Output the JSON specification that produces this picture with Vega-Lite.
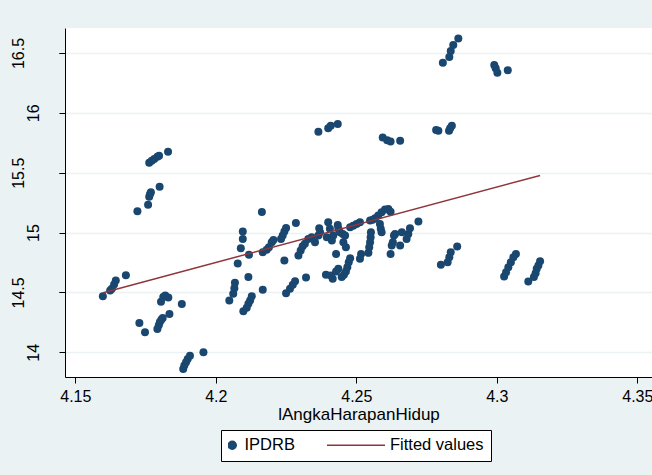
{
  "$schema": "https://vega.github.io/schema/vega-lite/v6.json",
  "width": 587,
  "height": 349,
  "autosize": {"type": "none"},
  "padding": {"left": 65, "top": 28, "right": 0, "bottom": 98},
  "background": "#eaf2f3",
  "config": {
    "font": "Liberation Sans",
    "view": {"fill": "#ffffff", "stroke": null},
    "axis": {"domainColor": "#000000", "tickColor": "#000000", "labelColor": "#000000", "titleColor": "#000000", "labelFontSize": 16, "titleFontSize": 17, "titleFontWeight": "normal", "tickSize": 6, "domainWidth": 1, "tickWidth": 1}
  },
  "datasets": {
    "pts": [
      {"lAngkaHarapanHidup": 4.1598, "IPDRB": 14.469},
      {"lAngkaHarapanHidup": 4.1624, "IPDRB": 14.517},
      {"lAngkaHarapanHidup": 4.1630, "IPDRB": 14.531},
      {"lAngkaHarapanHidup": 4.1638, "IPDRB": 14.567},
      {"lAngkaHarapanHidup": 4.1644, "IPDRB": 14.600},
      {"lAngkaHarapanHidup": 4.1680, "IPDRB": 14.644},
      {"lAngkaHarapanHidup": 4.1763, "IPDRB": 15.583},
      {"lAngkaHarapanHidup": 4.1772, "IPDRB": 15.600},
      {"lAngkaHarapanHidup": 4.1781, "IPDRB": 15.614},
      {"lAngkaHarapanHidup": 4.1792, "IPDRB": 15.633},
      {"lAngkaHarapanHidup": 4.1798, "IPDRB": 15.642},
      {"lAngkaHarapanHidup": 4.1830, "IPDRB": 15.675},
      {"lAngkaHarapanHidup": 4.1721, "IPDRB": 15.178},
      {"lAngkaHarapanHidup": 4.1759, "IPDRB": 15.233},
      {"lAngkaHarapanHidup": 4.1763, "IPDRB": 15.300},
      {"lAngkaHarapanHidup": 4.1766, "IPDRB": 15.323},
      {"lAngkaHarapanHidup": 4.1769, "IPDRB": 15.336},
      {"lAngkaHarapanHidup": 4.1800, "IPDRB": 15.383},
      {"lAngkaHarapanHidup": 4.1728, "IPDRB": 14.244},
      {"lAngkaHarapanHidup": 4.1748, "IPDRB": 14.167},
      {"lAngkaHarapanHidup": 4.1792, "IPDRB": 14.194},
      {"lAngkaHarapanHidup": 4.1797, "IPDRB": 14.225},
      {"lAngkaHarapanHidup": 4.1801, "IPDRB": 14.253},
      {"lAngkaHarapanHidup": 4.1806, "IPDRB": 14.272},
      {"lAngkaHarapanHidup": 4.1811, "IPDRB": 14.286},
      {"lAngkaHarapanHidup": 4.1805, "IPDRB": 14.422},
      {"lAngkaHarapanHidup": 4.1813, "IPDRB": 14.461},
      {"lAngkaHarapanHidup": 4.1820, "IPDRB": 14.475},
      {"lAngkaHarapanHidup": 4.1831, "IPDRB": 14.458},
      {"lAngkaHarapanHidup": 4.1835, "IPDRB": 14.319},
      {"lAngkaHarapanHidup": 4.1879, "IPDRB": 14.403},
      {"lAngkaHarapanHidup": 4.1884, "IPDRB": 13.861},
      {"lAngkaHarapanHidup": 4.1888, "IPDRB": 13.889},
      {"lAngkaHarapanHidup": 4.1894, "IPDRB": 13.917},
      {"lAngkaHarapanHidup": 4.1900, "IPDRB": 13.944},
      {"lAngkaHarapanHidup": 4.1908, "IPDRB": 13.972},
      {"lAngkaHarapanHidup": 4.1956, "IPDRB": 14.000},
      {"lAngkaHarapanHidup": 4.2164, "IPDRB": 15.172},
      {"lAngkaHarapanHidup": 4.2096, "IPDRB": 15.008},
      {"lAngkaHarapanHidup": 4.2096, "IPDRB": 14.947},
      {"lAngkaHarapanHidup": 4.2089, "IPDRB": 14.869},
      {"lAngkaHarapanHidup": 4.2078, "IPDRB": 14.742},
      {"lAngkaHarapanHidup": 4.2118, "IPDRB": 14.814},
      {"lAngkaHarapanHidup": 4.2116, "IPDRB": 14.628},
      {"lAngkaHarapanHidup": 4.2068, "IPDRB": 14.581},
      {"lAngkaHarapanHidup": 4.2066, "IPDRB": 14.536},
      {"lAngkaHarapanHidup": 4.2062, "IPDRB": 14.489},
      {"lAngkaHarapanHidup": 4.2048, "IPDRB": 14.433},
      {"lAngkaHarapanHidup": 4.2128, "IPDRB": 14.469},
      {"lAngkaHarapanHidup": 4.2122, "IPDRB": 14.433},
      {"lAngkaHarapanHidup": 4.2116, "IPDRB": 14.406},
      {"lAngkaHarapanHidup": 4.2110, "IPDRB": 14.372},
      {"lAngkaHarapanHidup": 4.2098, "IPDRB": 14.342},
      {"lAngkaHarapanHidup": 4.2167, "IPDRB": 14.522},
      {"lAngkaHarapanHidup": 4.2167, "IPDRB": 14.836},
      {"lAngkaHarapanHidup": 4.2181, "IPDRB": 14.856},
      {"lAngkaHarapanHidup": 4.2189, "IPDRB": 14.878},
      {"lAngkaHarapanHidup": 4.2199, "IPDRB": 14.919},
      {"lAngkaHarapanHidup": 4.2205, "IPDRB": 14.939},
      {"lAngkaHarapanHidup": 4.2232, "IPDRB": 14.947},
      {"lAngkaHarapanHidup": 4.2238, "IPDRB": 14.975},
      {"lAngkaHarapanHidup": 4.2244, "IPDRB": 15.008},
      {"lAngkaHarapanHidup": 4.2250, "IPDRB": 15.039},
      {"lAngkaHarapanHidup": 4.2285, "IPDRB": 15.081},
      {"lAngkaHarapanHidup": 4.2244, "IPDRB": 14.767},
      {"lAngkaHarapanHidup": 4.2250, "IPDRB": 14.494},
      {"lAngkaHarapanHidup": 4.2264, "IPDRB": 14.531},
      {"lAngkaHarapanHidup": 4.2274, "IPDRB": 14.564},
      {"lAngkaHarapanHidup": 4.2282, "IPDRB": 14.594},
      {"lAngkaHarapanHidup": 4.2321, "IPDRB": 14.625},
      {"lAngkaHarapanHidup": 4.2294, "IPDRB": 14.808},
      {"lAngkaHarapanHidup": 4.2302, "IPDRB": 14.850},
      {"lAngkaHarapanHidup": 4.2309, "IPDRB": 14.886},
      {"lAngkaHarapanHidup": 4.2317, "IPDRB": 14.906},
      {"lAngkaHarapanHidup": 4.2329, "IPDRB": 14.947},
      {"lAngkaHarapanHidup": 4.2341, "IPDRB": 14.961},
      {"lAngkaHarapanHidup": 4.2353, "IPDRB": 14.919},
      {"lAngkaHarapanHidup": 4.2365, "IPDRB": 14.975},
      {"lAngkaHarapanHidup": 4.2368, "IPDRB": 15.036},
      {"lAngkaHarapanHidup": 4.2371, "IPDRB": 15.003},
      {"lAngkaHarapanHidup": 4.2400, "IPDRB": 15.086},
      {"lAngkaHarapanHidup": 4.2406, "IPDRB": 15.031},
      {"lAngkaHarapanHidup": 4.2395, "IPDRB": 14.961},
      {"lAngkaHarapanHidup": 4.2413, "IPDRB": 14.933},
      {"lAngkaHarapanHidup": 4.2418, "IPDRB": 14.975},
      {"lAngkaHarapanHidup": 4.2434, "IPDRB": 15.064},
      {"lAngkaHarapanHidup": 4.2436, "IPDRB": 15.031},
      {"lAngkaHarapanHidup": 4.2428, "IPDRB": 14.822},
      {"lAngkaHarapanHidup": 4.2442, "IPDRB": 15.003},
      {"lAngkaHarapanHidup": 4.2452, "IPDRB": 14.989},
      {"lAngkaHarapanHidup": 4.2460, "IPDRB": 14.975},
      {"lAngkaHarapanHidup": 4.2454, "IPDRB": 14.919},
      {"lAngkaHarapanHidup": 4.2463, "IPDRB": 14.878},
      {"lAngkaHarapanHidup": 4.2478, "IPDRB": 15.044},
      {"lAngkaHarapanHidup": 4.2489, "IPDRB": 15.058},
      {"lAngkaHarapanHidup": 4.2501, "IPDRB": 15.072},
      {"lAngkaHarapanHidup": 4.2513, "IPDRB": 15.086},
      {"lAngkaHarapanHidup": 4.2549, "IPDRB": 15.100},
      {"lAngkaHarapanHidup": 4.2558, "IPDRB": 15.108},
      {"lAngkaHarapanHidup": 4.2567, "IPDRB": 15.119},
      {"lAngkaHarapanHidup": 4.2578, "IPDRB": 15.142},
      {"lAngkaHarapanHidup": 4.2590, "IPDRB": 15.169},
      {"lAngkaHarapanHidup": 4.2602, "IPDRB": 15.192},
      {"lAngkaHarapanHidup": 4.2614, "IPDRB": 15.197},
      {"lAngkaHarapanHidup": 4.2622, "IPDRB": 15.175},
      {"lAngkaHarapanHidup": 4.2584, "IPDRB": 15.072},
      {"lAngkaHarapanHidup": 4.2587, "IPDRB": 15.031},
      {"lAngkaHarapanHidup": 4.2590, "IPDRB": 15.003},
      {"lAngkaHarapanHidup": 4.2552, "IPDRB": 15.003},
      {"lAngkaHarapanHidup": 4.2551, "IPDRB": 14.961},
      {"lAngkaHarapanHidup": 4.2549, "IPDRB": 14.919},
      {"lAngkaHarapanHidup": 4.2546, "IPDRB": 14.878},
      {"lAngkaHarapanHidup": 4.2543, "IPDRB": 14.831},
      {"lAngkaHarapanHidup": 4.2517, "IPDRB": 14.822},
      {"lAngkaHarapanHidup": 4.2513, "IPDRB": 14.781},
      {"lAngkaHarapanHidup": 4.2392, "IPDRB": 14.647},
      {"lAngkaHarapanHidup": 4.2409, "IPDRB": 14.642},
      {"lAngkaHarapanHidup": 4.2416, "IPDRB": 14.614},
      {"lAngkaHarapanHidup": 4.2428, "IPDRB": 14.675},
      {"lAngkaHarapanHidup": 4.2436, "IPDRB": 14.697},
      {"lAngkaHarapanHidup": 4.2448, "IPDRB": 14.628},
      {"lAngkaHarapanHidup": 4.2456, "IPDRB": 14.647},
      {"lAngkaHarapanHidup": 4.2463, "IPDRB": 14.675},
      {"lAngkaHarapanHidup": 4.2468, "IPDRB": 14.711},
      {"lAngkaHarapanHidup": 4.2473, "IPDRB": 14.753},
      {"lAngkaHarapanHidup": 4.2478, "IPDRB": 14.786},
      {"lAngkaHarapanHidup": 4.2622, "IPDRB": 14.822},
      {"lAngkaHarapanHidup": 4.2626, "IPDRB": 14.892},
      {"lAngkaHarapanHidup": 4.2630, "IPDRB": 14.919},
      {"lAngkaHarapanHidup": 4.2634, "IPDRB": 14.975},
      {"lAngkaHarapanHidup": 4.2638, "IPDRB": 14.989},
      {"lAngkaHarapanHidup": 4.2656, "IPDRB": 14.892},
      {"lAngkaHarapanHidup": 4.2662, "IPDRB": 15.003},
      {"lAngkaHarapanHidup": 4.2679, "IPDRB": 14.947},
      {"lAngkaHarapanHidup": 4.2685, "IPDRB": 14.989},
      {"lAngkaHarapanHidup": 4.2691, "IPDRB": 15.036},
      {"lAngkaHarapanHidup": 4.2721, "IPDRB": 15.092},
      {"lAngkaHarapanHidup": 4.2365, "IPDRB": 15.842},
      {"lAngkaHarapanHidup": 4.2400, "IPDRB": 15.872},
      {"lAngkaHarapanHidup": 4.2409, "IPDRB": 15.892},
      {"lAngkaHarapanHidup": 4.2434, "IPDRB": 15.906},
      {"lAngkaHarapanHidup": 4.2594, "IPDRB": 15.794},
      {"lAngkaHarapanHidup": 4.2610, "IPDRB": 15.772},
      {"lAngkaHarapanHidup": 4.2622, "IPDRB": 15.761},
      {"lAngkaHarapanHidup": 4.2656, "IPDRB": 15.767},
      {"lAngkaHarapanHidup": 4.2784, "IPDRB": 15.856},
      {"lAngkaHarapanHidup": 4.2792, "IPDRB": 15.850},
      {"lAngkaHarapanHidup": 4.2830, "IPDRB": 15.850},
      {"lAngkaHarapanHidup": 4.2834, "IPDRB": 15.872},
      {"lAngkaHarapanHidup": 4.2840, "IPDRB": 15.892},
      {"lAngkaHarapanHidup": 4.2801, "IPDRB": 14.731},
      {"lAngkaHarapanHidup": 4.2825, "IPDRB": 14.753},
      {"lAngkaHarapanHidup": 4.2831, "IPDRB": 14.794},
      {"lAngkaHarapanHidup": 4.2836, "IPDRB": 14.836},
      {"lAngkaHarapanHidup": 4.2859, "IPDRB": 14.883},
      {"lAngkaHarapanHidup": 4.2808, "IPDRB": 16.419},
      {"lAngkaHarapanHidup": 4.2831, "IPDRB": 16.467},
      {"lAngkaHarapanHidup": 4.2836, "IPDRB": 16.517},
      {"lAngkaHarapanHidup": 4.2845, "IPDRB": 16.567},
      {"lAngkaHarapanHidup": 4.2863, "IPDRB": 16.622},
      {"lAngkaHarapanHidup": 4.2991, "IPDRB": 16.400},
      {"lAngkaHarapanHidup": 4.2996, "IPDRB": 16.372},
      {"lAngkaHarapanHidup": 4.3002, "IPDRB": 16.336},
      {"lAngkaHarapanHidup": 4.3039, "IPDRB": 16.356},
      {"lAngkaHarapanHidup": 4.3026, "IPDRB": 14.633},
      {"lAngkaHarapanHidup": 4.3033, "IPDRB": 14.669},
      {"lAngkaHarapanHidup": 4.3041, "IPDRB": 14.711},
      {"lAngkaHarapanHidup": 4.3050, "IPDRB": 14.753},
      {"lAngkaHarapanHidup": 4.3059, "IPDRB": 14.794},
      {"lAngkaHarapanHidup": 4.3068, "IPDRB": 14.822},
      {"lAngkaHarapanHidup": 4.3112, "IPDRB": 14.592},
      {"lAngkaHarapanHidup": 4.3132, "IPDRB": 14.628},
      {"lAngkaHarapanHidup": 4.3138, "IPDRB": 14.661},
      {"lAngkaHarapanHidup": 4.3142, "IPDRB": 14.697},
      {"lAngkaHarapanHidup": 4.3148, "IPDRB": 14.725},
      {"lAngkaHarapanHidup": 4.3154, "IPDRB": 14.761}
    ],
    "fit": [
      {"lAngkaHarapanHidup": 4.1599, "Fitted values": 14.4975},
      {"lAngkaHarapanHidup": 4.3154, "Fitted values": 15.4775}
    ]
  },
  "layer": [
    {
      "data": {"name": "pts"},
      "transform": [{"fold": ["IPDRB"], "as": ["series", "val"]}],
      "mark": {"type": "point", "filled": true, "opacity": 1, "strokeWidth": 0},
      "encoding": {
        "x": {"field": "lAngkaHarapanHidup", "type": "quantitative",
          "scale": {"domain": [4.14633, 4.35523], "nice": false, "zero": false},
          "axis": {"values": [4.15, 4.2, 4.25, 4.3, 4.35], "format": "~g", "grid": false, "labelPadding": 5, "title": "lAngkaHarapanHidup", "titlePadding": 2, "labelFlush": false, "labelOverlap": false}},
        "y": {"field": "val", "type": "quantitative",
          "scale": {"domain": [13.7937, 16.7088], "nice": false, "zero": false},
          "axis": {"orient": "left", "values": [14, 14.5, 15, 15.5, 16, 16.5], "format": "~g", "labelExpr": "datum.value % 1 === 0 ? datum.label : ''", "labelAngle": 270, "labelPadding": 18, "grid": true, "gridColor": "#eaf2f3", "gridWidth": 1.5, "title": null, "labelOverlap": false}},
        "color": {"field": "series", "type": "nominal",
          "scale": {"domain": ["IPDRB", "Fitted values"], "range": ["#1a476f", "#90353b"]},
          "legend": {"title": null, "orient": "none", "legendX": 156, "legendY": 402, "direction": "horizontal",
            "fillColor": "#ffffff", "strokeColor": "#000000", "padding": 7,
            "labelFontSize": 16.5, "labelColor": "#000000", "labelOffset": 4, "symbolOffset": -4, "columnPadding": 32,
            "clipHeight": 16, "symbolStrokeWidth": 1.5, "labelLimit": 300,
            "encode": {"symbols": {"update": {
              "fill": {"signal": "datum.value === 'IPDRB' ? '#1a476f' : 'transparent'"},
              "stroke": {"signal": "datum.value === 'IPDRB' ? 'transparent' : '#90353b'"},
              "opacity": {"value": 1}}}}}},
        "shape": {"field": "series", "type": "nominal",
          "scale": {"domain": ["IPDRB", "Fitted values"], "range": ["circle", "stroke"]}},
        "size": {"field": "series", "type": "nominal",
          "scale": {"domain": ["IPDRB", "Fitted values"], "range": [64, 3721]}}
      }
    },
    {
      "data": {"name": "fit"},
      "transform": [{"fold": ["Fitted values"], "as": ["series", "val"]}],
      "mark": {"type": "line", "strokeWidth": 1.5},
      "encoding": {
        "x": {"field": "lAngkaHarapanHidup", "type": "quantitative",
          "scale": {"domain": [4.14633, 4.35523], "nice": false, "zero": false}},
        "y": {"field": "val", "type": "quantitative",
          "scale": {"domain": [13.7937, 16.7088], "nice": false, "zero": false},
          "axis": {"orient": "left", "values": [14.5, 15.5, 16.5], "labelExpr": "format(datum.value, '.1f')", "labelAngle": 270, "labelPadding": 33, "grid": false, "domain": false, "ticks": true, "title": null, "labelOverlap": false}},
        "color": {"field": "series", "type": "nominal"}
      }
    }
  ],
  "resolve": {"axis": {"y": "independent"}}
}
